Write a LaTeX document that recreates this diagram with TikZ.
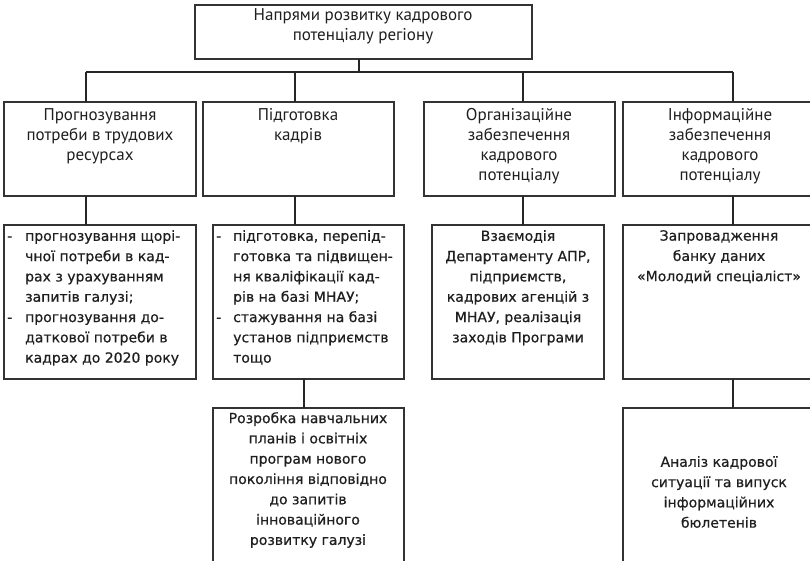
\documentclass[tikz,border=0pt]{standalone}
\usepackage{fontspec}
\setmainfont{PT Sans}
\newfontfamily\lowfont[FakeBold=0.6]{DejaVu Sans}
\begin{document}
\begin{tikzpicture}[x=1pt,y=-1pt,
  box/.style={draw=black!80, line width=1.2pt, inner sep=0pt, outer sep=0pt, anchor=north west, fill=white},
  conn/.style={draw=black!85, line width=2.5pt},
  hitxt/.style={inner sep=0pt, anchor=north, align=center, font=\fontsize{17}{20}\selectfont, text=black!88},
  lotxt/.style={inner sep=0pt, align=center, font=\lowfont\fontsize{14}{20.3}\selectfont, text=black!88},
  lolist/.style={inner sep=0pt, anchor=north west, align=left, font=\lowfont\fontsize{14}{20.3}\selectfont, text=black!88}]
\useasboundingbox (0,0) rectangle (810,560);
\clip (0,0) rectangle (810,560);
% boxes
\node[box, minimum width=337pt, minimum height=54pt] (top) at (195,5) {};
\node[box, minimum width=192pt, minimum height=94pt] (A2) at (4,102) {};
\node[box, minimum width=191pt, minimum height=94pt] (B2) at (203,102) {};
\node[box, minimum width=191pt, minimum height=94pt] (C2) at (424,102) {};
\node[box, minimum width=194pt, minimum height=94pt] (D2) at (623,102) {};
\node[box, minimum width=192pt, minimum height=154pt] (A3) at (4,225) {};
\node[box, minimum width=191pt, minimum height=154pt] (B3) at (213,225) {};
\node[box, minimum width=172pt, minimum height=154pt] (C3) at (432,225) {};
\node[box, minimum width=194pt, minimum height=154pt] (D3) at (623,225) {};
\node[box, minimum width=191pt, minimum height=170pt] (B4) at (213,408) {};
\node[box, minimum width=194pt, minimum height=170pt] (D4) at (623,408) {};
% junction coordinates
\coordinate (stem) at (359,59);
\coordinate (ja) at (86,72);
\coordinate (jb) at (295,72);
\coordinate (jc) at (523,72);
\coordinate (jd) at (733,72);
\coordinate (jb4) at (304,379);
% connectors
\draw[conn] (stem) -- (stem |- ja);
\draw[conn] (ja) -- (jd);
\draw[conn] (ja) -- (ja |- A2.north);
\draw[conn] (jb) -- (jb |- B2.north);
\draw[conn] (jc) -- (jc |- C2.north);
\draw[conn] (jd) -- (jd |- D2.north);
\draw[conn] (A2.south -| ja) -- (A3.north -| ja);
\draw[conn] (B2.south -| jb) -- (B3.north -| jb);
\draw[conn] (C2.south -| jc) -- (C3.north -| jc);
\draw[conn] (D2.south -| jd) -- (D3.north -| jd);
\draw[conn] (jb4) -- (jb4 |- B4.north);
\draw[conn] (D3.south -| jd) -- (D4.north -| jd);
% texts
\node[hitxt] (ttop) at (363,8) {Напрями розвитку кадрового\\потенціалу регіону};
\node[hitxt] (tA2) at (100,108) {Прогнозування\\потреби в трудових\\ресурсах};
\node[hitxt] (tB2) at (298,108) {Підготовка\\кадрів};
\node[hitxt] (tC2) at (519,108) {Організаційне\\забезпечення\\кадрового\\потенціалу};
\node[hitxt] (tD2) at (720,108) {Інформаційне\\забезпечення\\кадрового\\потенціалу};
\node[lolist] (tA3) at (7,230) {\makebox[18pt][l]{-}прогнозування щорі-\\\hspace*{18pt}чної потреби в кад-\\\hspace*{18pt}рах з урахуванням\\\hspace*{18pt}запитів галузі;\\\makebox[18pt][l]{-}прогнозування до-\\\hspace*{18pt}даткової потреби в\\\hspace*{18pt}кадрах до 2020 року};
\node[lolist] (tB3) at (216,230) {\makebox[17pt][l]{-}підготовка, перепід-\\\hspace*{17pt}готовка та підвищен-\\\hspace*{17pt}ня кваліфікації кад-\\\hspace*{17pt}рів на базі МНАУ;\\\makebox[17pt][l]{-}стажування на базі\\\hspace*{17pt}установ підприємств\\\hspace*{17pt}тощо};
\node[lotxt, anchor=north] (tC3) at (518,230) {Взаємодія\\Департаменту АПР,\\підприємств,\\кадрових агенцій з\\МНАУ, реалізація\\заходів Програми};
\node[lotxt, anchor=north] (tD3) at (719,230) {Запровадження\\банку даних\\«Молодий спеціаліст»};
\node[lotxt, anchor=north] (tB4) at (308,412) {Розробка навчальних\\планів і освітніх\\програм нового\\покоління відповідно\\до запитів\\інноваційного\\розвитку галузі};
\node[lotxt] (tD4) at (719,492) {Аналіз кадрової\\ситуації та випуск\\інформаційних\\бюлетенів};
\end{tikzpicture}
\end{document}
